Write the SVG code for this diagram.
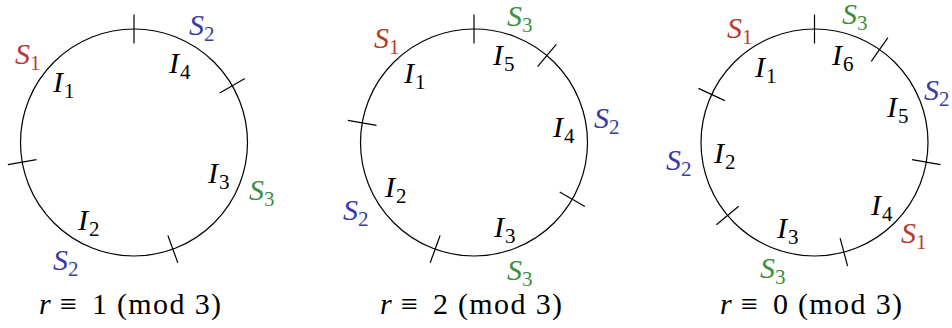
<svg xmlns="http://www.w3.org/2000/svg" width="952" height="328" viewBox="0 0 952 328">
<defs>
<circle id="ring" cx="0" cy="0" r="113.5" fill="none" stroke="#000" stroke-width="1.2"/>
</defs>
<rect width="952" height="328" fill="#fff"/>
<g id="panel1">
<use href="#ring" x="134" y="142.5"/>
<g id="ticks1" stroke="#000" stroke-width="1.2">
<line x1="134" y1="43.5" x2="134" y2="14.5"/>
<line x1="219.7" y1="93" x2="244.9" y2="78.5"/>
<line x1="36.5" y1="159.7" x2="7.9" y2="164.7"/>
<line x1="167.9" y1="235.5" x2="177.8" y2="262.8"/>
</g>
<text x="15" y="64" fill="#b83a2e" font-family="Liberation Serif" font-size="30" font-style="italic">S</text><text x="30" y="70" fill="#b83a2e" font-family="Liberation Serif" font-size="21">1</text>
<text x="189" y="35" fill="#3a3aa6" font-family="Liberation Serif" font-size="30" font-style="italic">S</text><text x="204" y="41" fill="#3a3aa6" font-family="Liberation Serif" font-size="21">2</text>
<text x="249" y="200" fill="#3d8f3d" font-family="Liberation Serif" font-size="30" font-style="italic">S</text><text x="264" y="206" fill="#3d8f3d" font-family="Liberation Serif" font-size="21">3</text>
<text x="53" y="270" fill="#3a3aa6" font-family="Liberation Serif" font-size="30" font-style="italic">S</text><text x="68" y="276" fill="#3a3aa6" font-family="Liberation Serif" font-size="21">2</text>
<text x="53" y="92" font-family="Liberation Serif" font-size="30" font-style="italic">I</text><text x="64" y="98" font-family="Liberation Serif" font-size="21">1</text>
<text x="78" y="230" font-family="Liberation Serif" font-size="30" font-style="italic">I</text><text x="89" y="236" font-family="Liberation Serif" font-size="21">2</text>
<text x="208" y="183" font-family="Liberation Serif" font-size="30" font-style="italic">I</text><text x="219" y="189" font-family="Liberation Serif" font-size="21">3</text>
<text x="169" y="73" font-family="Liberation Serif" font-size="30" font-style="italic">I</text><text x="180" y="79" font-family="Liberation Serif" font-size="21">4</text>
<text x="39" y="314" font-family="Liberation Serif" font-size="30" font-style="italic">r</text>
<text x="60" y="314" font-family="Liberation Serif" font-size="30">≡</text>
<text x="92" y="314" font-family="Liberation Serif" font-size="30">1</text>
<text x="117" y="314" font-family="Liberation Serif" font-size="30" textLength="104" lengthAdjust="spacing">(mod 3)</text>
</g>
<g id="panel2">
<use href="#ring" x="474" y="142.5"/>
<g id="ticks2" stroke="#000" stroke-width="1.2">
<line x1="474" y1="43.5" x2="474" y2="14.5"/>
<line x1="537.6" y1="66.7" x2="556.3" y2="44.4"/>
<line x1="559.7" y1="192" x2="584.9" y2="206.5"/>
<line x1="440.1" y1="235.5" x2="430.2" y2="262.8"/>
<line x1="376.5" y1="125.3" x2="347.9" y2="120.3"/>
</g>
<text x="374" y="48" fill="#b83a2e" font-family="Liberation Serif" font-size="30" font-style="italic">S</text><text x="389" y="54" fill="#b83a2e" font-family="Liberation Serif" font-size="21">1</text>
<text x="507" y="26" fill="#3d8f3d" font-family="Liberation Serif" font-size="30" font-style="italic">S</text><text x="522" y="32" fill="#3d8f3d" font-family="Liberation Serif" font-size="21">3</text>
<text x="594" y="128" fill="#3a3aa6" font-family="Liberation Serif" font-size="30" font-style="italic">S</text><text x="609" y="134" fill="#3a3aa6" font-family="Liberation Serif" font-size="21">2</text>
<text x="343" y="220" fill="#3a3aa6" font-family="Liberation Serif" font-size="30" font-style="italic">S</text><text x="358" y="226" fill="#3a3aa6" font-family="Liberation Serif" font-size="21">2</text>
<text x="507" y="280" fill="#3d8f3d" font-family="Liberation Serif" font-size="30" font-style="italic">S</text><text x="522" y="286" fill="#3d8f3d" font-family="Liberation Serif" font-size="21">3</text>
<text x="404" y="83" font-family="Liberation Serif" font-size="30" font-style="italic">I</text><text x="415" y="89" font-family="Liberation Serif" font-size="21">1</text>
<text x="385" y="197" font-family="Liberation Serif" font-size="30" font-style="italic">I</text><text x="396" y="203" font-family="Liberation Serif" font-size="21">2</text>
<text x="494" y="237" font-family="Liberation Serif" font-size="30" font-style="italic">I</text><text x="505" y="243" font-family="Liberation Serif" font-size="21">3</text>
<text x="553" y="137" font-family="Liberation Serif" font-size="30" font-style="italic">I</text><text x="564" y="143" font-family="Liberation Serif" font-size="21">4</text>
<text x="493" y="65" font-family="Liberation Serif" font-size="30" font-style="italic">I</text><text x="504" y="71" font-family="Liberation Serif" font-size="21">5</text>
<text x="380" y="314" font-family="Liberation Serif" font-size="30" font-style="italic">r</text>
<text x="401" y="314" font-family="Liberation Serif" font-size="30">≡</text>
<text x="433" y="314" font-family="Liberation Serif" font-size="30">2</text>
<text x="458" y="314" font-family="Liberation Serif" font-size="30" textLength="104" lengthAdjust="spacing">(mod 3)</text>
</g>
<g id="panel3">
<use href="#ring" x="814.5" y="142.5"/>
<g id="ticks3" stroke="#000" stroke-width="1.2">
<line x1="814.5" y1="43.5" x2="814.5" y2="14.5"/>
<line x1="871.3" y1="61.4" x2="887.9" y2="37.7"/>
<line x1="912" y1="159.7" x2="940.6" y2="164.7"/>
<line x1="840.1" y1="238.1" x2="847.6" y2="266.1"/>
<line x1="738.7" y1="206.2" x2="716.4" y2="224.8"/>
<line x1="724.8" y1="100.6" x2="698.5" y2="88.4"/>
</g>
<text x="727" y="38" fill="#b83a2e" font-family="Liberation Serif" font-size="30" font-style="italic">S</text><text x="742" y="44" fill="#b83a2e" font-family="Liberation Serif" font-size="21">1</text>
<text x="842" y="24" fill="#3d8f3d" font-family="Liberation Serif" font-size="30" font-style="italic">S</text><text x="857" y="30" fill="#3d8f3d" font-family="Liberation Serif" font-size="21">3</text>
<text x="924" y="100" fill="#3a3aa6" font-family="Liberation Serif" font-size="30" font-style="italic">S</text><text x="939" y="106" fill="#3a3aa6" font-family="Liberation Serif" font-size="21">2</text>
<text x="666" y="170" fill="#3a3aa6" font-family="Liberation Serif" font-size="30" font-style="italic">S</text><text x="681" y="176" fill="#3a3aa6" font-family="Liberation Serif" font-size="21">2</text>
<text x="901" y="243" fill="#b83a2e" font-family="Liberation Serif" font-size="30" font-style="italic">S</text><text x="916" y="249" fill="#b83a2e" font-family="Liberation Serif" font-size="21">1</text>
<text x="760" y="278" fill="#3d8f3d" font-family="Liberation Serif" font-size="30" font-style="italic">S</text><text x="775" y="284" fill="#3d8f3d" font-family="Liberation Serif" font-size="21">3</text>
<text x="755" y="77" font-family="Liberation Serif" font-size="30" font-style="italic">I</text><text x="766" y="83" font-family="Liberation Serif" font-size="21">1</text>
<text x="714" y="163" font-family="Liberation Serif" font-size="30" font-style="italic">I</text><text x="725" y="169" font-family="Liberation Serif" font-size="21">2</text>
<text x="777" y="238" font-family="Liberation Serif" font-size="30" font-style="italic">I</text><text x="788" y="244" font-family="Liberation Serif" font-size="21">3</text>
<text x="871" y="215" font-family="Liberation Serif" font-size="30" font-style="italic">I</text><text x="882" y="221" font-family="Liberation Serif" font-size="21">4</text>
<text x="887" y="117" font-family="Liberation Serif" font-size="30" font-style="italic">I</text><text x="898" y="123" font-family="Liberation Serif" font-size="21">5</text>
<text x="832" y="65" font-family="Liberation Serif" font-size="30" font-style="italic">I</text><text x="843" y="71" font-family="Liberation Serif" font-size="21">6</text>
<text x="720" y="314" font-family="Liberation Serif" font-size="30" font-style="italic">r</text>
<text x="741" y="314" font-family="Liberation Serif" font-size="30">≡</text>
<text x="773" y="314" font-family="Liberation Serif" font-size="30">0</text>
<text x="798" y="314" font-family="Liberation Serif" font-size="30" textLength="104" lengthAdjust="spacing">(mod 3)</text>
</g>
</svg>
